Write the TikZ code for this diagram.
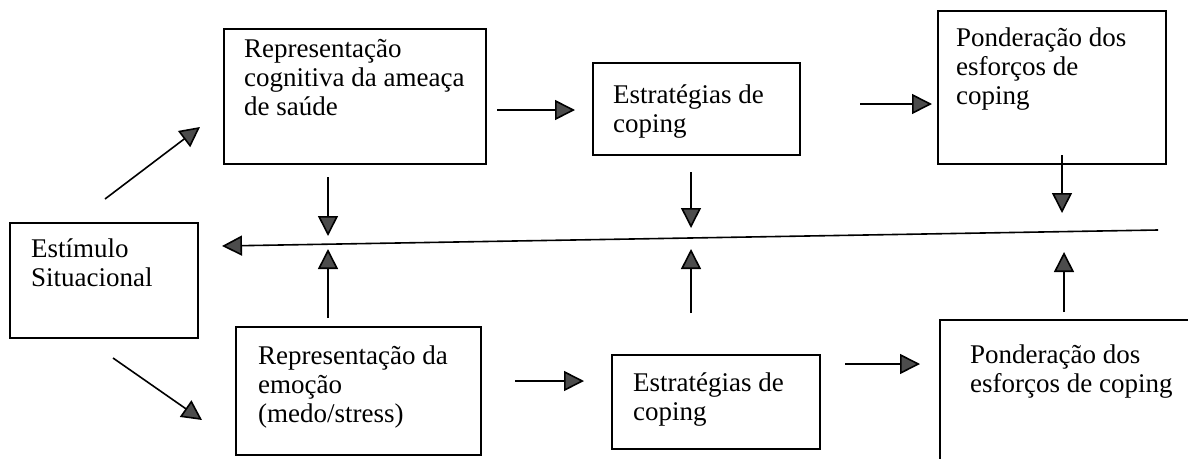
\documentclass[tikz,border=0pt]{standalone}
\usepackage{fontspec}
\setmainfont{Liberation Serif}
\usetikzlibrary{arrows.meta}
\begin{document}
\begin{tikzpicture}[x=1pt,y=-1pt,
  box/.style={draw=black,line width=1.5pt,inner sep=0pt},
  lbl/.style={inner sep=0pt,align=left,anchor=base west,font=\fontsize{27}{29}\selectfont},
  arr/.style={line width=1.6pt,-{Triangle[length=20pt,width=20pt,fill=black!70]}}]
\useasboundingbox (0,0) rectangle (1188,458);
\clip (0,0) rectangle (1188,458);
% boxes
\node[box,minimum width=188pt,minimum height=115pt] (S) at (104,280.5) {};
\node[box,minimum width=262pt,minimum height=135pt] (A) at (355,96.5) {};
\node[box,minimum width=207pt,minimum height=92pt] (B) at (696.5,109) {};
\node[box,minimum width=228pt,minimum height=153pt] (C) at (1052,87.5) {};
\node[box,minimum width=245pt,minimum height=128pt] (D) at (358.5,391) {};
\node[box,minimum width=208pt,minimum height=94pt] (E) at (716,402) {};
\node[box,minimum width=260pt,minimum height=150pt] (F) at (1070,395) {};
% labels (anchored at the baseline of their last line)
\node[lbl] (St) at (31,286) {Estímulo\\Situacional};
\node[lbl] (At) at (244,115) {Representação\\cognitiva da ameaça\\de saúde};
\node[lbl] (Bt) at (613,132) {Estratégias de\\coping};
\node[lbl] (Ct) at (956,104) {Ponderação dos\\esforços de\\coping};
\node[lbl] (Dt) at (258,422) {Representação da\\emoção\\(medo/stress)};
\node[lbl] (Et) at (633,420) {Estratégias de\\coping};
\node[lbl] (Ft) at (970,392) {Ponderação dos\\esforços de coping};
% coordinates of connector ends
\coordinate (d1s) at (105,199); \coordinate (d1e) at (200,127);
\coordinate (d2s) at (113,358); \coordinate (d2e) at (202,420);
\coordinate (abS) at (497,110); \coordinate (abE) at (575,110);
\coordinate (bcS) at (860,104); \coordinate (bcE) at (932,104);
\coordinate (deS) at (515,381); \coordinate (deE) at (584,381);
\coordinate (efS) at (845,364); \coordinate (efE) at (920,364);
\coordinate (LR) at (1158,230); \coordinate (LL) at (222,246);
\coordinate (a1) at (328,177); \coordinate (a2) at (328,236);
\coordinate (d1) at (328,318); \coordinate (d2) at (328,249);
\coordinate (b1) at (691,172); \coordinate (b2) at (691,228);
\coordinate (e1) at (691,313); \coordinate (e2) at (691,249);
\coordinate (c1) at (1062,155); \coordinate (c2) at (1062,213);
\coordinate (f1) at (1064,312); \coordinate (f2) at (1064,252);
% connectors
\draw[arr] (d1s) -- (d1e);
\draw[arr] (d2s) -- (d2e);
\draw[arr] (abS) -- (abE);
\draw[arr] (bcS) -- (bcE);
\draw[arr] (deS) -- (deE);
\draw[arr] (efS) -- (efE);
\draw[arr] (LR) -- (LL);
\draw[arr] (a1) -- (a2);
\draw[arr] (d1) -- (d2);
\draw[arr] (b1) -- (b2);
\draw[arr] (e1) -- (e2);
\draw[arr] (c1) -- (c2);
\draw[arr] (f1) -- (f2);
\end{tikzpicture}
\end{document}
